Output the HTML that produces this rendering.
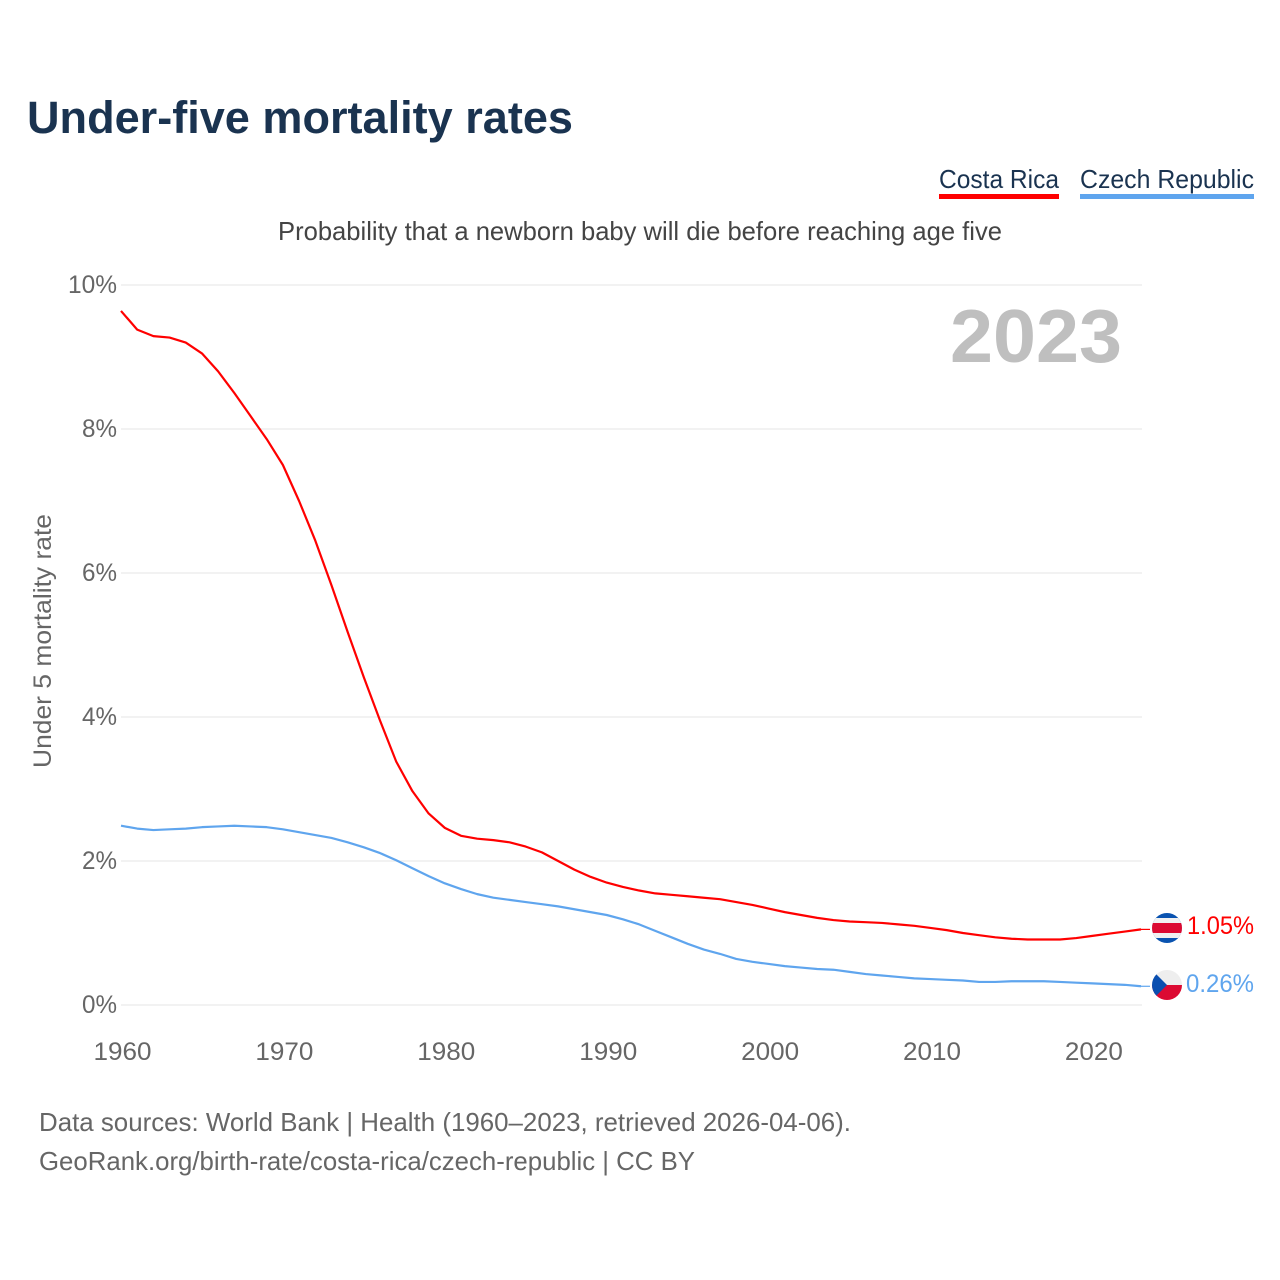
<!DOCTYPE html>
<html lang="en">
<head>
<meta charset="utf-8">
<title>Under-five mortality rates</title>
<style>
html,body{margin:0;padding:0;background:#fff;}
svg{display:block;font-family:"Liberation Sans",sans-serif;}
</style>
</head>
<body>
<svg id="chart" xmlns="http://www.w3.org/2000/svg" width="1280" height="1280" viewBox="0 0 1280 1280">
  <defs>
    <clipPath id="flag-cr"><circle cx="1167" cy="928" r="15"/></clipPath>
    <clipPath id="flag-cz"><circle cx="1167" cy="985" r="15"/></clipPath>
  </defs>
  <rect x="0" y="0" width="1280" height="1280" fill="#fff"/>
  <text x="27" y="133" font-size="45" font-weight="700" fill="#1a3350" textLength="546" lengthAdjust="spacingAndGlyphs">Under-five mortality rates</text>

  <g>
    <text x="939" y="188" font-size="26" fill="#1a3350" textLength="120" lengthAdjust="spacingAndGlyphs">Costa Rica</text>
    <rect x="939" y="194" width="120" height="5" fill="#ff0000"/>
  </g>
  <g>
    <text x="1080" y="188" font-size="26" fill="#1a3350" textLength="174" lengthAdjust="spacingAndGlyphs">Czech Republic</text>
    <rect x="1080" y="194" width="174" height="5" fill="#5fa5ee"/>
  </g>

  <text x="278" y="240" font-size="26" fill="#444" textLength="724" lengthAdjust="spacingAndGlyphs">Probability that a newborn baby will die before reaching age five</text>

  <g id="grid"></g>
  <g id="y-ticks"></g>
  <g id="x-ticks"></g>

  <text transform="translate(51,768) rotate(-90)" x="0" y="0" font-size="25" fill="#666" textLength="254" lengthAdjust="spacingAndGlyphs">Under 5 mortality rate</text>

  <text x="1122" y="362" text-anchor="end" font-size="75" font-weight="700" fill="#bfbfbf" textLength="172" lengthAdjust="spacingAndGlyphs">2023</text>

  <g id="series"></g>

  <g clip-path="url(#flag-cr)">
    <rect x="1152" y="913" width="30" height="30" fill="#0a53b0"/>
    <rect x="1152" y="918" width="30" height="20" fill="#f1f1f1"/>
    <rect x="1152" y="923" width="30" height="10" fill="#dc0a32"/>
  </g>
  <g clip-path="url(#flag-cz)">
    <rect x="1152" y="970" width="30" height="15" fill="#eeeeee"/>
    <rect x="1152" y="985" width="30" height="15" fill="#dc0a32"/>
    <polygon points="1152,970 1167,985 1152,1000" fill="#0a4fb0"/>
  </g>

  <g id="end-labels"></g>

  <text x="39" y="1131" font-size="26" fill="#666" textLength="812" lengthAdjust="spacingAndGlyphs">Data sources: World Bank | Health (1960–2023, retrieved 2026-04-06).</text>
  <text x="39" y="1170" font-size="26" fill="#666" textLength="656" lengthAdjust="spacingAndGlyphs">GeoRank.org/birth-rate/costa-rica/czech-republic | CC BY</text>
</svg>
<script>
const startYear = 1960;
const costaRica = [9.64,9.38,9.29,9.27,9.20,9.05,8.80,8.50,8.18,7.86,7.50,7.00,6.45,5.83,5.18,4.55,3.95,3.38,2.97,2.66,2.46,2.35,2.31,2.29,2.26,2.20,2.12,2.00,1.88,1.78,1.70,1.64,1.59,1.55,1.53,1.51,1.49,1.47,1.43,1.39,1.34,1.29,1.25,1.21,1.18,1.16,1.15,1.14,1.12,1.10,1.07,1.04,1.00,0.97,0.94,0.92,0.91,0.91,0.91,0.93,0.96,0.99,1.02,1.05];
const czechRepublic = [2.49,2.45,2.43,2.44,2.45,2.47,2.48,2.49,2.48,2.47,2.44,2.40,2.36,2.32,2.26,2.19,2.11,2.01,1.90,1.79,1.69,1.61,1.54,1.49,1.46,1.43,1.40,1.37,1.33,1.29,1.25,1.19,1.12,1.03,0.94,0.85,0.77,0.71,0.64,0.60,0.57,0.54,0.52,0.50,0.49,0.46,0.43,0.41,0.39,0.37,0.36,0.35,0.34,0.32,0.32,0.33,0.33,0.33,0.32,0.31,0.30,0.29,0.28,0.26];
const yTickValues = [0,2,4,6,8,10];
const xTickValues = [1960,1970,1980,1990,2000,2010,2020];
const endLabelCostaRica = "1.05%";
const endLabelCzech = "0.26%";

const NS = "http://www.w3.org/2000/svg";
function xScale(year){ return 121 + (year - 1960) * (1141 - 121) / 63; }
function yScale(v){ return 1005 - v * 72; }

function makeText(parent, x, y, str, size, fill, anchor, len){
  const t = document.createElementNS(NS, "text");
  t.setAttribute("x", x);
  t.setAttribute("y", y);
  t.setAttribute("font-size", size);
  t.setAttribute("fill", fill);
  t.setAttribute("text-anchor", anchor);
  t.setAttribute("textLength", len);
  t.setAttribute("lengthAdjust", "spacingAndGlyphs");
  t.textContent = str;
  parent.appendChild(t);
  return t;
}

const grid = document.getElementById("grid");
const yTicks = document.getElementById("y-ticks");
yTickValues.forEach(function(v){
  const l = document.createElementNS(NS, "line");
  
  
  l.setAttribute("x1", 121);
  l.setAttribute("x2", 1142);
  l.setAttribute("y1", yScale(v));
  l.setAttribute("y2", yScale(v));
  l.setAttribute("stroke", "#eeeeee");
  l.setAttribute("stroke-width", 1.5);
  grid.appendChild(l);
  const label = v + "%";
  const t = makeText(yTicks, 117, yScale(v) + 8, label, 25, "#666", "end", v === 10 ? 49 : 35);
  
  
});

const xTicks = document.getElementById("x-ticks");
xTickValues.forEach(function(y){
  const t = makeText(xTicks, xScale(y) + 1.5, 1060, String(y), 25, "#666", "middle", 58);
  
  
});

function linePath(values){
  return values.map(function(v, i){
    return (i ? "L" : "M") + xScale(startYear + i).toFixed(2) + " " + yScale(v).toFixed(2);
  }).join(" ");
}

const series = document.getElementById("series");

const crLine = document.createElementNS(NS, "path");


crLine.setAttribute("d", linePath(costaRica));
crLine.setAttribute("fill", "none");
crLine.setAttribute("stroke", "#ff0000");
crLine.setAttribute("stroke-width", 2.2);
crLine.setAttribute("stroke-linejoin", "round");
series.appendChild(crLine);

const czLine = document.createElementNS(NS, "path");


czLine.setAttribute("d", linePath(czechRepublic));
czLine.setAttribute("fill", "none");
czLine.setAttribute("stroke", "#5fa5ee");
czLine.setAttribute("stroke-width", 2.2);
czLine.setAttribute("stroke-linejoin", "round");
series.appendChild(czLine);

const crLast = yScale(costaRica[costaRica.length - 1]);
const czLast = yScale(czechRepublic[czechRepublic.length - 1]);

const crConn = document.createElementNS(NS, "line");


crConn.setAttribute("x1", 1141);
crConn.setAttribute("x2", 1150);
crConn.setAttribute("y1", crLast);
crConn.setAttribute("y2", crLast);
crConn.setAttribute("stroke", "#ff0000");
crConn.setAttribute("stroke-width", 1.2);
series.appendChild(crConn);

const czConn = document.createElementNS(NS, "line");


czConn.setAttribute("x1", 1141);
czConn.setAttribute("x2", 1150);
czConn.setAttribute("y1", czLast);
czConn.setAttribute("y2", czLast);
czConn.setAttribute("stroke", "#5fa5ee");
czConn.setAttribute("stroke-width", 1.2);
series.appendChild(czConn);

const endLabels = document.getElementById("end-labels");
const crEnd = makeText(endLabels, 1187, 934, endLabelCostaRica, 25, "#ff0000", "start", 67);


const czEnd = makeText(endLabels, 1186, 992, endLabelCzech, 25, "#5fa5ee", "start", 68);


</script>
</body>
</html>
